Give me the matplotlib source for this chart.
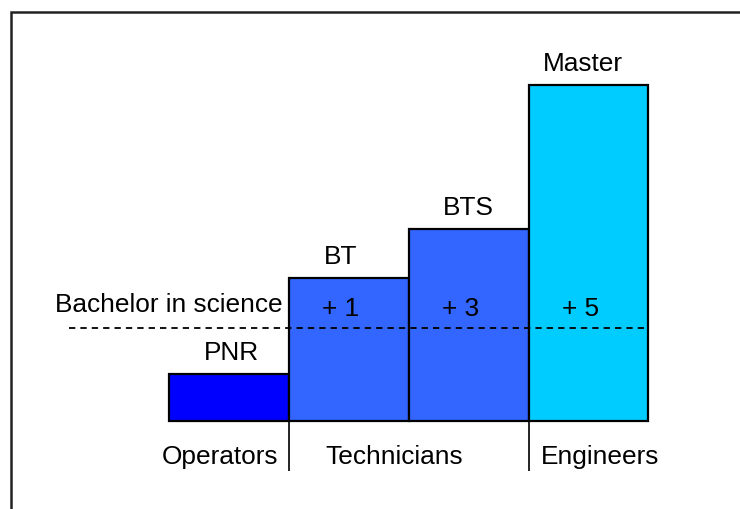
#!/usr/bin/env python3
"""Education levels chart: PNR / BT / BTS / Master."""

import matplotlib
matplotlib.use("Agg")
import matplotlib.pyplot as plt
from matplotlib.patches import Rectangle

plt.rcParams["font.family"] = ["Liberation Sans", "DejaVu Sans"]

# data
levels = ["PNR", "BT", "BTS", "Master"]
heights = [14.0, 42.5, 57.0, 100.0]
extra_years = [None, "+ 1", "+ 3", "+ 5"]
bar_colors = ["#0000ff", "#3366ff", "#3366ff", "#00ccff"]
bachelor_level = 27.7
bachelor_label = "Bachelor in science"
groups = ["Operators", "Technicians", "Engineers"]
group_x = [0.42, 1.88, 3.60]
group_breaks = [1, 3]

FS = 18.9

fig = plt.figure(figsize=(7.4, 5.1), dpi=100)
ax = fig.add_axes([0, 0, 1, 1])
ax.set_axis_off()
ax.set_xlim(-1.416, 4.766)
ax.set_ylim(-26.2, 125.6)

x = list(range(len(levels)))
ax.bar(x, heights, width=1.0, align="edge", color=bar_colors,
       edgecolor="black", linewidth=1.6, zorder=2)

# bachelor reference line
ax.hlines(bachelor_level, -0.84, len(levels), colors="black",
          linestyles=(0, (3.5, 2.8)), linewidth=1.3, zorder=3)
ax.text(0.948, 32.7, bachelor_label, ha="right", va="baseline", fontsize=FS)

# level labels above bars
shifts = [0.02, -0.07, 0.0, -0.05]
for xi, h, name, dx in zip(x, heights, levels, shifts):
    ax.text(xi + 0.5 + dx, h + 4.5, name, ha="center", va="baseline", fontsize=FS)

# years after bachelor
for xi, txt in zip(x, extra_years):
    if txt:
        ax.text(xi + 0.43, 31.5, txt, ha="center", va="baseline", fontsize=FS, zorder=4)

# group separators and names
ax.vlines(group_breaks, -14.8, 0, colors="black", linewidth=1.2)
for gx, g in zip(group_x, groups):
    ax.text(gx, -12.6, g, ha="center", va="baseline", fontsize=FS)

# outer frame (runs off right/bottom)
fig.patches.append(Rectangle((11 / 740, -0.2), 1.2, 1.2 - 13 / 510,
                             transform=fig.transFigure, fill=False,
                             edgecolor="#222222", linewidth=1.8))

fig.savefig("out.png", dpi=100, facecolor="white")
